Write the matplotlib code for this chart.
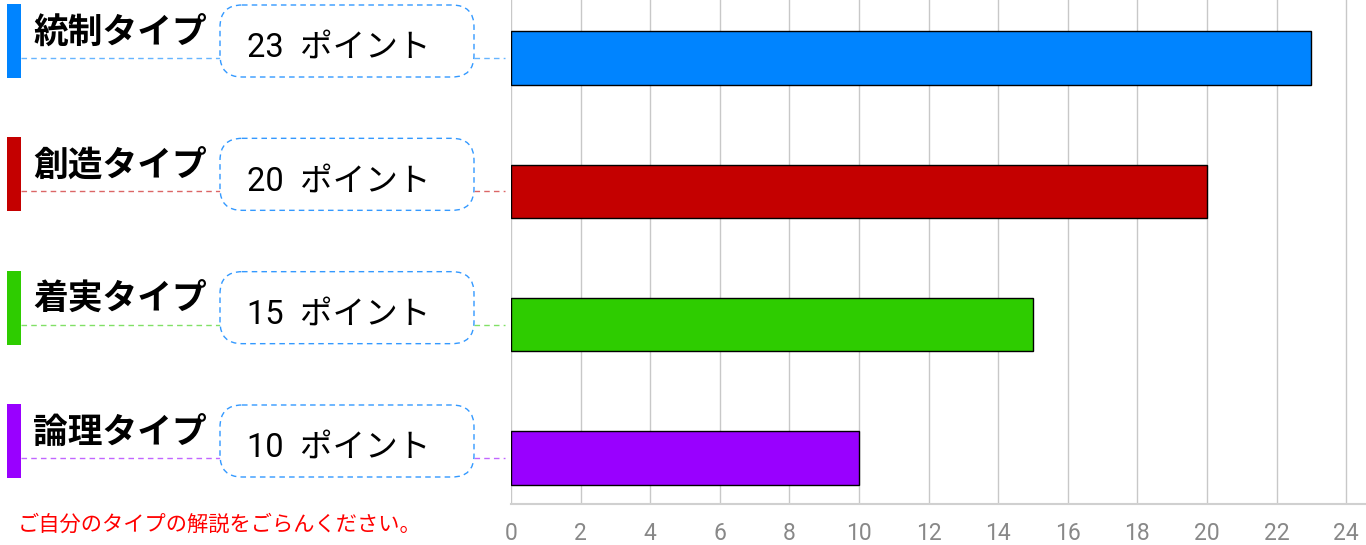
import matplotlib
matplotlib.use("Agg")
import matplotlib.pyplot as plt
from matplotlib.patches import FancyBboxPatch, Rectangle

plt.rcParams['font.family'] = ['Noto Sans CJK JP', 'DejaVu Sans']

# data
types = ["統制タイプ", "創造タイプ", "着実タイプ", "論理タイプ"]
points = [23, 20, 15, 10]
colors = ["#0084ff", "#c40000", "#2ecc00", "#9900ff"]
ticks = list(range(0, 25, 2))
note = "ご自分のタイプの解説をごらんください。"

W, H = 1366, 545
fig = plt.figure(figsize=(W / 100, H / 100), dpi=100)

ax_left_px = 511
ax_bottom_px = 504
ax = fig.add_axes([ax_left_px / W, 1 - ax_bottom_px / H, 1 - ax_left_px / W, ax_bottom_px / H])

ypos = list(range(len(types)))
ax.barh(ypos, points, height=0.4, color=colors, edgecolor="black", linewidth=1, zorder=3)

px_per_unit = 133.33
ax.set_ylim(3 + 46 / px_per_unit, -58 / px_per_unit)
ax.set_xlim(0, (W - ax_left_px) / 34.8)
ax.set_xticks(ticks)
ax.set_xticklabels([str(t) for t in ticks], family=['Roboto'],
                   fontsize=16.5, color="#888888")
ax.tick_params(axis="x", length=0, pad=13)
ax.set_yticks([])
ax.grid(axis="x", color="#c8c8c8", linewidth=1, zorder=0)
for s in ("top", "right", "left"):
    ax.spines[s].set_visible(False)
ax.spines["bottom"].set_color("#d0d0d0")
ax.spines["bottom"].set_linewidth(1.5)

# left labels panel, sharing the bar axis y scale
axl = fig.add_axes([0, 1 - ax_bottom_px / H, ax_left_px / W, ax_bottom_px / H], sharey=ax)
axl.set_xlim(0, ax_left_px)
axl.axis("off")

for i, (name, val, c) in enumerate(zip(types, points, colors)):
    yc = i - 17 / px_per_unit
    axl.add_patch(Rectangle((7, yc - 37 / px_per_unit), 14, 74 / px_per_unit, color=c, lw=0))
    axl.hlines(i, 21, 220, colors=c, linestyles=(0, (4, 3)), linewidth=1, alpha=0.6)
    axl.hlines(i, 474, 505, colors=c, linestyles=(0, (4, 3)), linewidth=1, alpha=0.6)
    box = FancyBboxPatch((220, yc - 36 / px_per_unit), 254, 72 / px_per_unit,
                         boxstyle="round,pad=0,rounding_size=22",
                         mutation_aspect=1 / px_per_unit,
                         facecolor="white", edgecolor="#3399ff",
                         linestyle=(0, (4, 3)), linewidth=1, zorder=2)
    axl.add_patch(box)
    axl.text(33, i - 26 / px_per_unit, name, fontsize=25, fontweight="bold",
             ha="left", va="center", zorder=4)
    axl.text(247, i - 10 / px_per_unit, f"{val}  ポイント", fontsize=23.5,
             family=['Roboto', 'Noto Sans CJK JP'], ha="left", va="center", zorder=4)

fig.text(18 / W, 1 - 525 / H, note, fontsize=15.3, color="#ff0000", ha="left", va="center")

fig.savefig("out.png", dpi=100)
